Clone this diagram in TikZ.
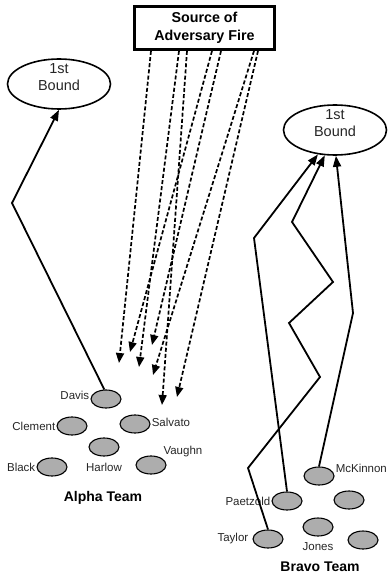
\documentclass[tikz,border=0pt]{standalone}
\usepackage{fontspec}
\setmainfont{Liberation Sans}
\usetikzlibrary{shapes.geometric,arrows.meta}

\tikzset{
  soldier/.style={ellipse,draw,line width=1.1pt,fill=black!32,
    minimum width=30pt,minimum height=18pt,inner sep=0pt},
  bound/.style={ellipse,draw,line width=1.6pt,
    minimum width=103pt,minimum height=50pt,inner sep=0pt},
  boundtext/.style={align=center,font=\fontsize{14.5}{17}\selectfont,yshift=7pt},
  move/.style={line width=1.8pt,-{Triangle[length=11pt,width=8pt]}},
  fire/.style={line width=1.7pt,dash pattern=on 4pt off 2.2pt,
    -{Triangle[length=10pt,width=8pt]}},
  every label/.style={font=\fontsize{11.5}{13}\selectfont,inner sep=1pt,text=black!85},
  team/.style={font=\bfseries\fontsize{14}{16}\selectfont},
}

\begin{document}
\begin{tikzpicture}[x=1pt,y=-1pt]
  \useasboundingbox (0,0) rectangle (391,577);

  % source and bounds
  \node[draw,line width=2.8pt,minimum width=140pt,minimum height=43pt,
    align=center,font=\bfseries\fontsize{14.3}{18}\selectfont]
    (src) at (204.5,28) {Source of\\Adversary Fire};
  \node[bound,label={[boundtext]center:{1st\\Bound}}] (lbound) at (59,84) {};
  \node[bound,label={[boundtext]center:{1st\\Bound}}] (rbound) at (335,130) {};

  % alpha team
  \node[soldier,label={[yshift=4pt]left:Davis}] (davis) at (106,399) {};
  \node[soldier,label=left:Clement] (clement) at (72,426) {};
  \node[soldier,label={[yshift=2pt]right:Salvato}] (salvato) at (135,424) {};
  \node[soldier,label={[label distance=5pt]below:Harlow}] (harlow) at (104,447) {};
  \node[soldier,label=left:Black] (black) at (52,467) {};
  \node[soldier,label=30:Vaughn] (vaughn) at (151,465) {};
  \node[team] (alpha) at (103,498) {Alpha Team};

  % bravo team
  \node[soldier,label={[yshift=8pt]right:McKinnon}] (mckinnon) at (319,476) {};
  \node[soldier,label=left:Paetzold] (paetzold) at (287,501) {};
  \node[soldier] (bravo5) at (349,500) {};
  \node[soldier,label={[label distance=5pt]below:Jones}] (jones) at (318,527) {};
  \node[soldier,label={[label distance=3pt]left:Taylor}] (taylor) at (268,539) {};
  \node[soldier] (bravo6) at (363,540) {};
  \node[team] (bravo) at (320,567) {Bravo Team};

  % moves to the first bound
  \draw[move] (davis.100) -- (12,203) -- (lbound.south);
  \draw[move] (taylor.north) -- (248,468) -- (320,377) -- (289,323)
    -- (333,282) -- (292,222) -- (rbound.248);
  \draw[move] (paetzold.north) -- (254,238) -- (rbound.235);
  \draw[move] (mckinnon.north) -- (353,313) -- (rbound.272);

  % incoming fire
  \foreach \n/\x/\y in {1/119/363,2/139/367,3/162/405,4/130/352,
                        5/152/345,6/153/375,7/177/397}
    \coordinate (hit\n) at (\x,\y);
  \foreach \n/\s in {1/-53.5,2/-25.5,3/-17.5,4/7.5,5/16.5,6/49.5,7/53.5}
    \draw[fire] ([xshift=\s pt]src.south) -- (hit\n);
\end{tikzpicture}
\end{document}
